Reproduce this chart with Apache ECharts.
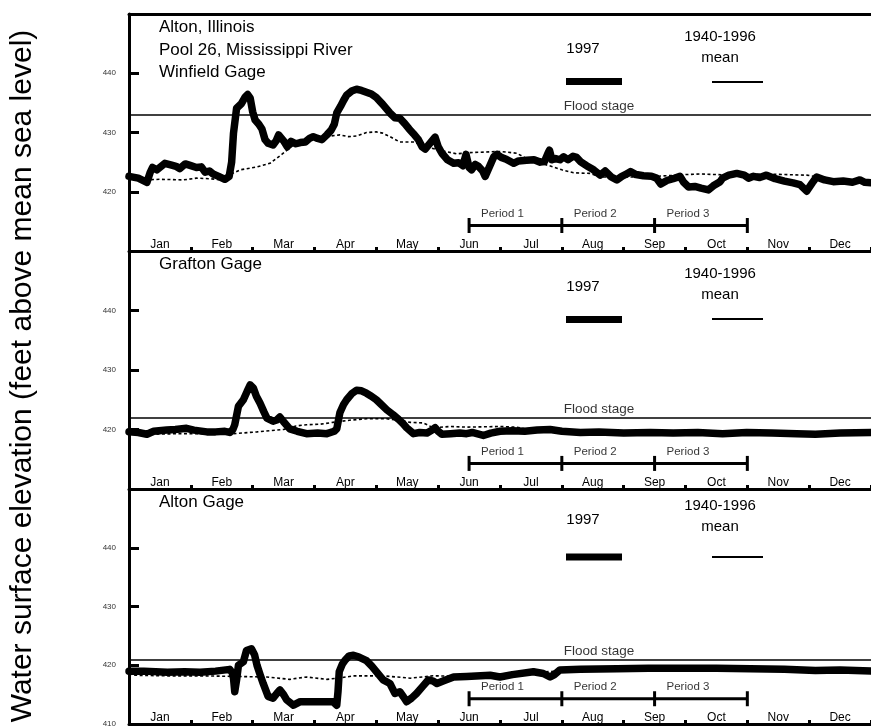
<!DOCTYPE html>
<html><head><meta charset="utf-8">
<script src="https://cdn.jsdelivr.net/npm/echarts@6/dist/echarts.min.js"></script>
<style>html,body{margin:0;padding:0;background:#fff}#c{width:871px;height:728px}</style>
</head><body><div id="c"></div>
<script>
// ---------- DATA ----------
const months = ['Jan','Feb','Mar','Apr','May','Jun','Jul','Aug','Sep','Oct','Nov','Dec'];
const panelTitles = [['Alton, Illinois','Pool 26, Mississippi River','Winfield Gage'],['Grafton Gage'],['Alton Gage']];
const floodStage = [433, 422, 421];
const periodNames = ['Period 1','Period 2','Period 3'];
const periodBounds = [5.5, 7.0, 8.5, 10.0]; // months from Jan 1
const yTickValues = [410, 420, 430, 440, 450];
const legendLabels = ['1997', '1940-1996', 'mean'];

// x = months since Jan 1, y = feet above mean sea level
const winfield1997 = [[0,422.6],[0.15,422.3],[0.29,421.6],[0.34,423.2],[0.38,424.1],[0.45,423.7],[0.58,424.8],[0.69,424.5],[0.76,424.3],[0.82,423.9],[0.91,424.7],[1.0,424.4],[1.09,424.1],[1.17,424.2],[1.23,423.3],[1.3,423.5],[1.36,423],[1.45,422.6],[1.55,422.1],[1.62,422.6],[1.66,425],[1.69,429.9],[1.74,434.1],[1.82,434.9],[1.88,436],[1.92,436.4],[1.96,435.8],[2.0,433.5],[2.04,432.1],[2.1,431.4],[2.15,430.6],[2.2,428.8],[2.25,428.2],[2.33,427.9],[2.38,428.6],[2.42,429.6],[2.5,428.6],[2.56,427.6],[2.62,428.5],[2.7,428.1],[2.77,428.3],[2.85,428.4],[2.92,429],[2.98,429.3],[3.05,429],[3.12,428.8],[3.2,429.6],[3.27,430.4],[3.32,431.4],[3.36,433.3],[3.42,434.4],[3.47,435.4],[3.52,436.3],[3.6,437],[3.68,437.3],[3.76,437.1],[3.84,436.8],[3.92,436.5],[4.0,435.9],[4.1,434.8],[4.22,433.3],[4.3,432.5],[4.38,432.4],[4.46,431.5],[4.53,430.6],[4.6,429.8],[4.68,428.8],[4.74,427.6],[4.79,427.2],[4.87,428.2],[4.95,429.2],[5.0,427.6],[5.06,426.5],[5.15,425.4],[5.25,424.8],[5.33,424.9],[5.4,424.4],[5.45,426.3],[5.5,424.1],[5.54,423.7],[5.6,424.6],[5.65,424.3],[5.72,423.5],[5.76,422.6],[5.82,424],[5.9,425.9],[5.95,426.3],[6.02,425.8],[6.1,425.5],[6.22,424.8],[6.3,425.2],[6.43,425.3],[6.55,425.4],[6.65,425],[6.72,425.1],[6.78,426.6],[6.8,427],[6.84,425.4],[6.9,425.6],[6.97,425.4],[7.03,425.9],[7.1,425.4],[7.18,426],[7.24,425.8],[7.3,425.1],[7.4,424.4],[7.5,423.8],[7.62,422.8],[7.7,423.5],[7.8,422.5],[7.89,422],[7.97,422.6],[8.05,423],[8.11,423.4],[8.2,422.9],[8.32,422.7],[8.45,422.6],[8.53,422.3],[8.6,421.3],[8.7,421.9],[8.8,422.2],[8.91,422.6],[8.97,421.6],[9.05,420.8],[9.15,420.9],[9.25,420.6],[9.37,420.3],[9.45,421],[9.56,421.7],[9.6,422.3],[9.7,422.8],[9.83,423.1],[9.95,422.8],[10.02,422.3],[10.1,422.6],[10.2,422.4],[10.31,422.8],[10.45,422.2],[10.6,421.8],[10.74,421.5],[10.85,421.2],[10.96,420.1],[11.05,421.5],[11.12,422.5],[11.25,422],[11.39,421.7],[11.55,421.8],[11.7,421.6],[11.82,422],[11.9,421.6],[12,421.5]];
const winfieldMean = [[0,422.2],[0.23,422],[0.5,422.1],[0.88,422],[1.09,422.3],[1.3,422.2],[1.53,422],[1.65,423],[1.8,423.7],[2.07,424.2],[2.28,424.8],[2.47,426.3],[2.6,427.4],[2.77,428.6],[2.95,429],[3.09,429.1],[3.25,429.4],[3.41,429.6],[3.55,429.3],[3.68,429.4],[3.84,430],[4.0,430.1],[4.1,429.9],[4.22,429.3],[4.38,428.4],[4.6,428.4],[4.8,427.6],[5.03,427],[5.3,426.4],[5.5,426.6],[5.75,426.7],[6.0,426.8],[6.27,426.5],[6.43,425.6],[6.6,425],[6.86,424.2],[7.0,423.7],[7.19,423.2],[7.46,423.1],[7.62,422.5],[8.0,422.5],[8.22,422.5],[8.5,422.6],[8.7,422.7],[9.0,422.9],[9.24,423],[9.5,422.9],[9.78,422.8],[10.05,422.9],[10.31,423],[10.6,422.9],[10.96,422.8],[11.2,422.4],[11.39,422.1],[11.7,421.9],[12,421.8]];

const grafton1997 = [[0,419.6],[0.15,419.5],[0.29,419.2],[0.4,419.7],[0.61,419.9],[0.75,420],[0.93,420.2],[1.05,419.9],[1.26,419.6],[1.4,419.6],[1.55,419.7],[1.63,419.5],[1.68,420],[1.71,420.8],[1.77,423.9],[1.85,425],[1.91,426.4],[1.96,427.5],[2.01,427],[2.06,425.6],[2.12,424.4],[2.18,423],[2.23,421.9],[2.33,421.4],[2.39,421.6],[2.44,422.1],[2.5,421.3],[2.6,420.1],[2.72,419.7],[2.87,419.3],[3.05,419.4],[3.2,419.3],[3.32,419.7],[3.36,420.1],[3.41,422.8],[3.47,424.2],[3.52,425],[3.6,426],[3.68,426.6],[3.76,426.5],[3.84,426.1],[3.92,425.6],[4.0,425],[4.08,424.2],[4.17,423.3],[4.27,422.5],[4.36,421.7],[4.43,421],[4.49,420.3],[4.6,419.3],[4.7,419.5],[4.82,419.4],[4.9,419.9],[4.95,420.3],[5.0,419.7],[5.06,419.2],[5.2,419.3],[5.35,419.4],[5.46,419.3],[5.55,419.5],[5.73,419],[5.85,419.4],[6.0,419.7],[6.2,419.8],[6.4,419.7],[6.6,419.9],[6.81,420],[7.0,419.7],[7.3,419.5],[7.6,419.6],[8.0,419.4],[8.43,419.5],[8.8,419.4],[9.2,419.5],[9.6,419.3],[9.99,419.5],[10.4,419.4],[10.8,419.3],[11.1,419.2],[11.5,419.4],[12,419.5]];
const graftonMean = [[0,419.4],[0.34,419.2],[0.8,419.3],[1.15,419.3],[1.69,419.3],[2.07,419.6],[2.5,420],[2.7,420.6],[2.87,420.8],[3.1,420.9],[3.3,421.2],[3.6,421.6],[3.84,421.8],[4.17,421.8],[4.4,421.5],[4.55,421.2],[4.76,421.1],[4.92,420.3],[5.2,420.5],[5.46,420.4],[6.0,420.5],[6.27,420.4],[6.5,419.9],[7,419.7],[8,419.6],[9,419.6],[10,419.6],[11,419.6],[12,419.6]];

const alton1997 = [[0,419],[0.24,419],[0.62,418.8],[0.9,418.9],[1.15,418.8],[1.4,419],[1.63,419.3],[1.67,418.7],[1.69,417.8],[1.71,415.5],[1.74,417.5],[1.77,420],[1.85,420.6],[1.9,422.5],[1.98,422.8],[2.03,421.8],[2.07,420],[2.12,418.4],[2.17,416.9],[2.25,414.7],[2.33,414.4],[2.39,415.2],[2.44,415.8],[2.5,415],[2.55,414.1],[2.66,413.2],[2.77,413.8],[3.0,413.8],[3.3,413.8],[3.36,413.2],[3.38,415.5],[3.40,418.9],[3.45,420.2],[3.49,420.8],[3.56,421.6],[3.63,421.7],[3.72,421.4],[3.84,420.8],[3.93,419.8],[4.0,418.9],[4.11,417.5],[4.22,416.9],[4.3,415.2],[4.38,415.5],[4.44,414.6],[4.49,413.8],[4.57,414.4],[4.65,415.2],[4.75,416.4],[4.84,417.5],[4.92,417.3],[4.98,416.9],[5.1,417.4],[5.25,418],[5.46,418.1],[5.84,418.3],[6.0,418],[6.2,418.4],[6.54,418.9],[6.7,418.6],[6.81,418],[6.88,418.4],[6.97,419.2],[7.3,419.3],[7.89,419.4],[8.4,419.5],[8.97,419.5],[9.5,419.5],[10.05,419.4],[10.6,419.3],[11.1,419.1],[11.5,419.2],[12,419]];
const altonMean = [[0,418.6],[0.07,418.3],[0.62,418.2],[1.2,418.2],[1.69,418.1],[2.23,418],[2.6,417.6],[2.87,418],[3.2,417.6],[3.45,417.9],[3.63,418.2],[4.11,418.2],[4.55,417.8],[4.92,418.2],[5.46,418.1],[6.0,418.4],[6.5,418.8],[7,419],[8,419.1],[9,419.1],[10,419.1],[11,419],[12,418.9]];

const series1997 = [winfield1997, grafton1997, alton1997];
const seriesMean = [winfieldMean, graftonMean, altonMean];

// ---------- LAYOUT ----------
const FONT = 'Liberation Sans, Arial, Helvetica, sans-serif';
const gridTops = [14, 251, 489];
const gridHeights = [237, 238, 238];
const gridLeft = 129, gridWidth = 742;
const bracketLevel = 414.3;
const floodLabelX = 7.6;

const chart = echarts.init(document.getElementById('c'), null, {renderer: 'canvas'});

const grid = [], xAxis = [], yAxis = [], series = [], graphic = [];

for (let k = 0; k < 3; k++) {
  grid.push({left: gridLeft, top: gridTops[k], width: gridWidth, height: gridHeights[k], containLabel: false});
  xAxis.push({
    type: 'value', gridIndex: k, min: 0, max: 12, interval: 1, position: 'top',
    axisLine: {show: k === 0, lineStyle: {color: '#000', width: 3}},
    axisTick: {show: false}, axisLabel: {show: false}, splitLine: {show: false}
  });
  xAxis.push({
    type: 'category', gridIndex: k, data: months, position: 'bottom', boundaryGap: true,
    axisLine: {show: true, lineStyle: {color: '#000', width: 3}},
    axisTick: {show: true, inside: true, length: 4, interval: 0, lineStyle: {color: '#000', width: 3}},
    axisLabel: {show: true, inside: true, margin: 0, interval: 0, fontSize: 12, fontFamily: FONT, color: '#000'},
    splitLine: {show: false}
  });
  yAxis.push({
    type: 'value', gridIndex: k, min: yTickValues[0], max: yTickValues[yTickValues.length - 1], interval: 10,
    axisLine: {show: true, lineStyle: {color: '#000', width: 3}},
    axisTick: {show: true, inside: true, length: 10, lineStyle: {color: '#000', width: 3}},
    axisLabel: {show: true, margin: 13, fontSize: 8, fontFamily: FONT, color: '#333',
      showMinLabel: k === 2, showMaxLabel: false},
    splitLine: {show: false}
  });

  const xi = 2 * k;
  series.push({
    type: 'line', xAxisIndex: xi, yAxisIndex: k, data: seriesMean[k], showSymbol: false, z: 3,
    lineStyle: {color: '#000', width: 1.6, type: [3, 2.5]}, silent: true
  });
  series.push({
    type: 'line', xAxisIndex: xi, yAxisIndex: k, data: series1997[k], showSymbol: false, z: 4,
    lineStyle: {color: '#000', width: 7.5, cap: 'round', join: 'round'}, silent: true,
    markLine: {silent: true, symbol: 'none', label: {show: false},
      lineStyle: {color: '#000', width: 1.5, type: 'solid'},
      data: [{yAxis: floodStage[k]}]}
  });
  series.push({
    type: 'scatter', xAxisIndex: xi, yAxisIndex: k, symbolSize: 0, silent: true,
    data: [[floodLabelX, floodStage[k]]],
    label: {show: true, position: 'top', distance: 1, formatter: 'Flood stage',
      fontSize: 13.5, fontFamily: FONT, color: '#000'}
  });
  series.push({
    type: 'line', xAxisIndex: xi, yAxisIndex: k, silent: true,
    data: periodBounds.map(b => [b, bracketLevel]),
    showSymbol: true, symbol: 'rect', symbolSize: [3, 15],
    itemStyle: {color: '#000'}, lineStyle: {color: '#000', width: 3}
  });
  series.push({
    type: 'scatter', xAxisIndex: xi, yAxisIndex: k, symbolSize: 0, silent: true,
    data: periodNames.map((n, i) => ({value: [(periodBounds[i] + periodBounds[i + 1]) / 2, bracketLevel], name: n})),
    label: {show: true, position: 'top', distance: 6, offset: [-13, 0], formatter: p => p.name,
      fontSize: 11.5, fontFamily: FONT, color: '#000'}
  });

  // panel titles
  panelTitles[k].forEach((t, i) => {
    graphic.push({type: 'text', x: 159, y: gridTops[k] + 13.3 + i * 22.7,
      style: {text: t, fontSize: 17, fontFamily: FONT, fill: '#000', align: 'left', verticalAlign: 'middle',
        textAlign: 'left', textVerticalAlign: 'middle'}});
  });
}

// legends per panel (text + key lines)
const legendY = [
  {t1997: 49, bar: 81.5, tRange: 37, tMean: 58, line: 82},
  {t1997: 287, bar: 319.5, tRange: 273.5, tMean: 294.5, line: 319},
  {t1997: 520, bar: 557, tRange: 506, tMean: 527, line: 557}
];
legendY.forEach(L => {
  const txt = (s, x, y) => ({type: 'text', x: x, y: y,
    style: {text: s, fontSize: 15, fontFamily: FONT, fill: '#000', align: 'center', verticalAlign: 'middle',
      textAlign: 'center', textVerticalAlign: 'middle'}});
  graphic.push(txt(legendLabels[0], 583, L.t1997));
  graphic.push(txt(legendLabels[1], 720, L.tRange));
  graphic.push(txt(legendLabels[2], 720, L.tMean));
  graphic.push({type: 'line', shape: {x1: 566, y1: L.bar, x2: 622, y2: L.bar},
    style: {stroke: '#000', lineWidth: 7}});
  graphic.push({type: 'line', shape: {x1: 712, y1: L.line, x2: 763, y2: L.line},
    style: {stroke: '#000', lineWidth: 2}});
});

// y-axis title
graphic.push({type: 'text', x: 23, y: 376, rotation: Math.PI / 2,
  style: {text: 'Water surface elevation (feet above mean sea level)', fontSize: 30, fontFamily: FONT, fill: '#000',
    align: 'center', verticalAlign: 'middle', textAlign: 'center', textVerticalAlign: 'middle'}});

chart.setOption({
  backgroundColor: '#fff',
  animation: false,
  grid: grid, xAxis: xAxis, yAxis: yAxis, series: series, graphic: graphic
});
</script></body></html>
